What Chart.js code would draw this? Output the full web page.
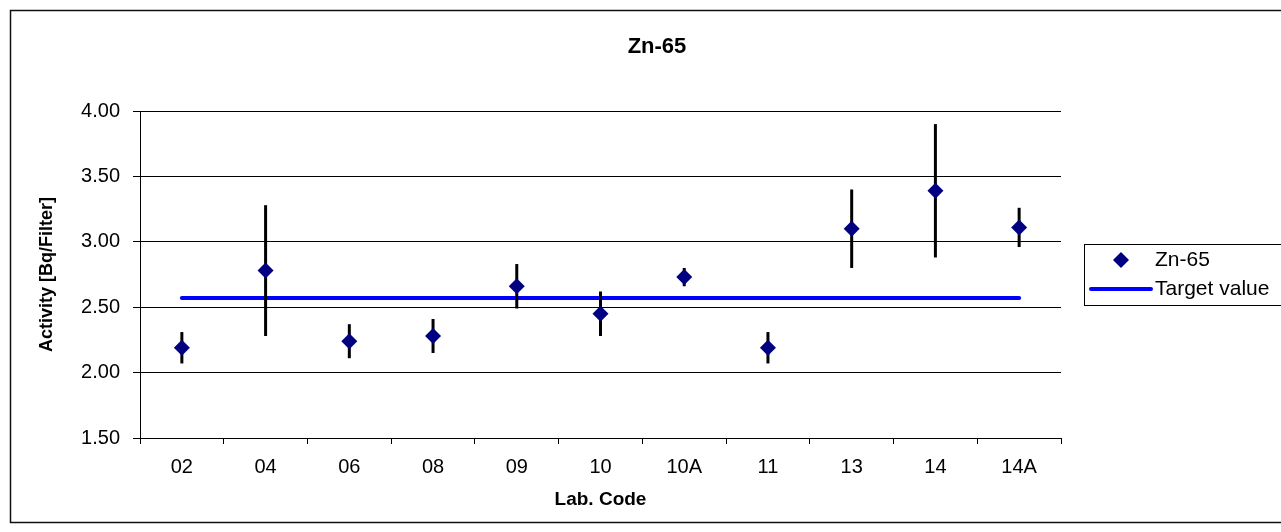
<!DOCTYPE html>
<html>
<head>
<meta charset="utf-8">
<script src="https://cdn.jsdelivr.net/npm/chart.js@4/dist/chart.umd.min.js"></script>
<style>
  html, body { margin: 0; padding: 0; background: #fff; }
  canvas { display: block; }
</style>
</head>
<body>
<canvas id="chart" width="1281" height="532"></canvas>
<script>
const labCodes = ['02', '04', '06', '08', '09', '10', '10A', '11', '13', '14', '14A'];
const activity = [2.19, 2.78, 2.24, 2.28, 2.66, 2.45, 2.73, 2.19, 3.10, 3.39, 3.11];
const uncertainty = [0.12, 0.50, 0.13, 0.13, 0.17, 0.17, 0.07, 0.12, 0.30, 0.51, 0.15];
const targetValue = [2.57, 2.57, 2.57, 2.57, 2.57, 2.57, 2.57, 2.57, 2.57, 2.57, 2.57];
const yTicks = [1.5, 2.0, 2.5, 3.0, 3.5, 4.0];
const chartTitle = 'Zn-65';

const FONT = '"Liberation Sans", Arial, sans-serif';

// frame round the whole chart + the title (centred on the frame, not the plot)
const frame = {
  id: 'frame',
  beforeDraw(chart) {
    const ctx = chart.ctx;
    ctx.save();
    ctx.fillStyle = '#fff';
    ctx.fillRect(0, 0, chart.width, chart.height);
    ctx.strokeStyle = '#111';
    ctx.lineWidth = 1.5;
    ctx.strokeRect(10.5, 10.5, chart.width, 512);
    ctx.fillStyle = '#000';
    ctx.font = 'bold 22px ' + FONT;
    ctx.textAlign = 'center';
    ctx.textBaseline = 'middle';
    ctx.fillText(chartTitle, 657, 47);
    ctx.restore();
  },
};

// vertical error bars, drawn after the target line and under the diamonds
const errorBars = {
  id: 'errorBars',
  afterDatasetDraw(chart, args) {
    if (args.index !== 1) return;
    const ctx = chart.ctx;
    const x = chart.scales.x;
    const y = chart.scales.y;
    ctx.save();
    ctx.strokeStyle = '#000';
    ctx.lineWidth = 3;
    activity.forEach((v, i) => {
      const px = x.getPixelForValue(i);
      ctx.beginPath();
      ctx.moveTo(px, y.getPixelForValue(v + uncertainty[i]));
      ctx.lineTo(px, y.getPixelForValue(v - uncertainty[i]));
      ctx.stroke();
    });
    ctx.restore();
  },
};

// boxed legend at the right, as in the original
const boxLegend = {
  id: 'boxLegend',
  afterDraw(chart) {
    const ctx = chart.ctx;
    const left = 1084.5, top = 244.5;
    ctx.save();
    ctx.fillStyle = '#fff';
    ctx.fillRect(left, top, 220, 61);
    ctx.strokeStyle = '#000';
    ctx.lineWidth = 1;
    ctx.strokeRect(left, top, 220, 61);

    // Zn-65 diamond
    const r = 8;
    ctx.fillStyle = '#000080';
    ctx.beginPath();
    ctx.moveTo(1121, 260 - r);
    ctx.lineTo(1121 + r, 260);
    ctx.lineTo(1121, 260 + r);
    ctx.lineTo(1121 - r, 260);
    ctx.closePath();
    ctx.fill();

    // target line
    ctx.strokeStyle = '#0000ff';
    ctx.lineWidth = 4;
    ctx.lineCap = 'round';
    ctx.beginPath();
    ctx.moveTo(1091, 289);
    ctx.lineTo(1151, 289);
    ctx.stroke();

    ctx.fillStyle = '#000';
    ctx.font = '21px ' + FONT;
    ctx.textBaseline = 'middle';
    ctx.textAlign = 'left';
    ctx.fillText(chart.data.datasets[0].label, 1155, 260);
    ctx.fillText(chart.data.datasets[1].label, 1155, 289);
    ctx.restore();
  },
};

new Chart(document.getElementById('chart'), {
  type: 'line',
  data: {
    labels: labCodes,
    datasets: [
      {
        label: 'Zn-65',
        data: activity,
        showLine: false,
        pointStyle: 'rectRot',
        pointRadius: 8,
        pointHoverRadius: 8,
        pointBackgroundColor: '#000080',
        pointBorderWidth: 0,
        order: 1,
      },
      {
        label: 'Target value',
        data: targetValue,
        borderColor: '#0000ff',
        borderWidth: 4,
        borderCapStyle: 'round',
        pointRadius: 0,
        fill: false,
        order: 2,
      },
    ],
  },
  options: {
    responsive: false,
    animation: false,
    layout: { padding: { left: 0, right: 220, top: 111, bottom: 0 } },
    plugins: {
      legend: { display: false },
      tooltip: { enabled: false },
      title: { display: false },
    },
    scales: {
      x: {
        type: 'category',
        offset: true,
        grid: { offset: true, drawOnChartArea: false, color: '#000', tickLength: 6 },
        border: { color: '#000', width: 1 },
        ticks: { color: '#000', padding: 11, font: { family: FONT, size: 20 } },
        title: {
          display: true,
          text: 'Lab. Code',
          color: '#000',
          font: { family: FONT, size: 19, weight: 'bold' },
          padding: { top: 0, bottom: 21 },
        },
        afterFit(scale) { scale.height = 94; },
      },
      y: {
        min: 1.5,
        max: 4,
        afterBuildTicks(scale) { scale.ticks = yTicks.map(v => ({ value: v })); },
        grid: { color: '#000', tickLength: 7 },
        border: { color: '#000', width: 1 },
        ticks: {
          color: '#000',
          padding: 13,
          font: { family: FONT, size: 20 },
          callback: v => Number(v).toFixed(2),
        },
        title: {
          display: true,
          text: 'Activity [Bq/Filter]',
          color: '#000',
          font: { family: FONT, size: 18, weight: 'bold' },
          padding: { top: 36, bottom: 0 },
        },
        afterFit(scale) { scale.width = 140; },
      },
    },
  },
  plugins: [frame, errorBars, boxLegend],
});
</script>
</body>
</html>
